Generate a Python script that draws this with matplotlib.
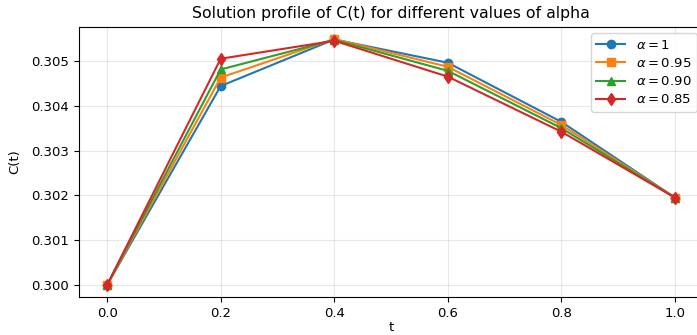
import matplotlib
matplotlib.use("Agg")
import matplotlib.pyplot as plt

t = [0.0, 0.2, 0.4, 0.6, 0.8, 1.0]
c_alpha_100 = [0.30000, 0.30444, 0.30548, 0.30496, 0.30364, 0.30195]
c_alpha_095 = [0.30000, 0.30463, 0.30549, 0.30487, 0.30357, 0.30195]
c_alpha_090 = [0.30000, 0.30481, 0.30547, 0.30478, 0.30350, 0.30195]
c_alpha_085 = [0.30000, 0.30505, 0.30545, 0.30465, 0.30342, 0.30195]

series = [
    (c_alpha_100, 'o', r'$\alpha=1$'),
    (c_alpha_095, 's', r'$\alpha=0.95$'),
    (c_alpha_090, '^', r'$\alpha=0.90$'),
    (c_alpha_085, 'd', r'$\alpha=0.85$'),
]

plt.rcParams['font.size'] = 9.5
fig = plt.figure(figsize=(6.97, 3.35), dpi=100)
ax = fig.add_axes([0.1129, 0.1125, 0.8963, 0.8078])

for values, marker, label in series:
    ax.plot(t, values, marker=marker, label=label, linewidth=1.5, markersize=6)

ax.set_title('Solution profile of C(t) for different values of alpha', fontsize=11.3)
ax.set_xlabel('t', labelpad=1)
ax.set_ylabel('C(t)', labelpad=7)
ax.set_yticks([0.300, 0.301, 0.302, 0.303, 0.304, 0.305])
ax.grid(True, alpha=0.3)
ax.legend(loc='upper right', fontsize=9.5, borderaxespad=0.5,
          handlelength=2.2, labelspacing=0.4)

fig.savefig('out.png', dpi=100)
